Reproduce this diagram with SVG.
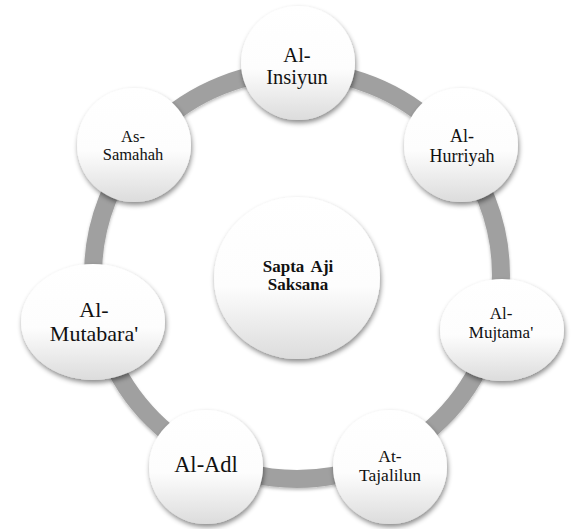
<svg xmlns="http://www.w3.org/2000/svg" width="573" height="529" viewBox="0 0 573 529">
  <defs>
    <linearGradient id="nodeFill" x1="0" y1="0" x2="0" y2="1">
      <stop offset="0" stop-color="#ffffff"/>
      <stop offset="0.55" stop-color="#fdfdfd"/>
      <stop offset="1" stop-color="#dcdcdc"/>
    </linearGradient>
    <filter id="shadow" x="-20%" y="-20%" width="140%" height="145%">
      <feDropShadow dx="1" dy="3" stdDeviation="2.5" flood-color="#000" flood-opacity="0.45"/>
    </filter>
    <filter id="ringShadow" x="-10%" y="-10%" width="120%" height="120%">
      <feDropShadow dx="0" dy="2" stdDeviation="1.5" flood-color="#000" flood-opacity="0.25"/>
    </filter>
  </defs>
  <style>
    .node { fill: url(#nodeFill); filter: url(#shadow); }
    .bold { font-weight: bold; }
  </style>
  <rect width="573" height="529" fill="#ffffff"/>
  <g id="connectors">
    <circle cx="297" cy="275" r="204" fill="none" stroke="#a0a0a0" stroke-width="18" filter="url(#ringShadow)"/>
  </g>
  <g font-family="Liberation Serif, Times New Roman, Times, serif" fill="#111" text-anchor="middle">
  <g id="center">
    <ellipse class="node" cx="297" cy="278" rx="83" ry="81"/>
    <text class="bold" x="298" y="272" font-size="17" word-spacing="3">Sapta Aji</text>
    <text class="bold" x="298" y="290" font-size="17">Saksana</text>
  </g>
  <g id="al-insiyun">
    <circle class="node" cx="298" cy="63" r="57"/>
    <text x="297" y="62" font-size="20.5">Al-</text>
    <text x="297" y="84" font-size="20.5">Insiyun</text>
  </g>
  <g id="al-hurriyah">
    <circle class="node" cx="461" cy="145" r="57"/>
    <text x="462" y="142" font-size="18">Al-</text>
    <text x="462" y="162" font-size="18">Hurriyah</text>
  </g>
  <g id="al-mujtama">
    <ellipse class="node" cx="502" cy="330" rx="62" ry="51"/>
    <text x="501" y="319" font-size="17">Al-</text>
    <text x="501" y="338" font-size="17">Mujtama'</text>
  </g>
  <g id="at-tajalilun">
    <circle class="node" cx="390" cy="467" r="57"/>
    <text x="390" y="462" font-size="17.5">At-</text>
    <text x="390" y="481" font-size="17.5">Tajalilun</text>
  </g>
  <g id="al-adl">
    <circle class="node" cx="206" cy="467" r="57"/>
    <text x="206" y="472" font-size="22.5">Al-Adl</text>
  </g>
  <g id="al-mutabara">
    <ellipse class="node" cx="93" cy="322" rx="72" ry="58"/>
    <text x="94" y="317" font-size="22">Al-</text>
    <text x="94" y="341" font-size="22">Mutabara'</text>
  </g>
  <g id="as-samahah">
    <circle class="node" cx="134" cy="145" r="57"/>
    <text x="133" y="142" font-size="16.5">As-</text>
    <text x="133" y="160" font-size="16.5">Samahah</text>
  </g>
  </g>
</svg>
